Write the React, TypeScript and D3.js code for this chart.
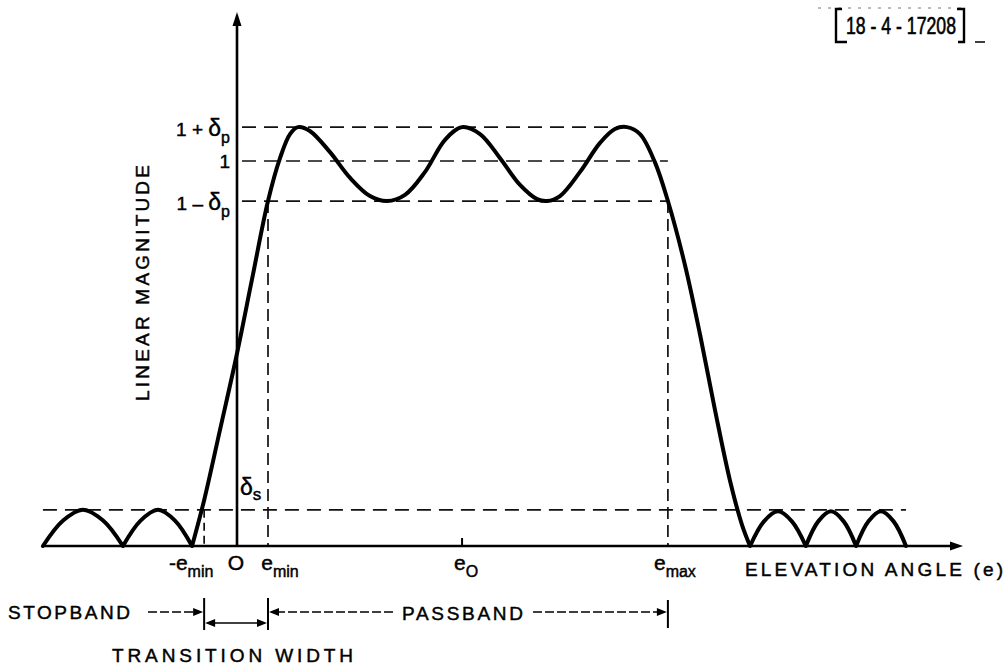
import React from 'react';
import * as d3 from 'd3';

const W = 1008;
const H = 669;

// ---- data (elevation angle in units of e_min, linear magnitude) ----
const stopLeftE = [-6.26, -5.61, -4.97, -4.32, -3.68, -3.11, -2.55, -2.0, -1.45];
const stopLeftM = [0, 0.066, 0.094, 0.066, 0, 0.066, 0.094, 0.066, 0];
const mainE = [-1.06, -0.55, 0, 0.48, 1.0, 1.39, 1.71, 1.97, 2.35, 3.0, 3.65, 4.29, 4.84, 5.42, 6.06, 6.71, 7.26, 7.84, 8.48, 9.13, 9.68, 10.0, 10.42, 11.06, 11.71, 12.19, 12.58, 13.0, 13.48, 13.9, 14.45, 14.94, 15.42, 15.9, 16.29];
const mainM = [0.119, 0.301, 0.5, 0.691, 0.896, 1.008, 1.07, 1.088, 1.078, 1.023, 0.956, 0.909, 0.896, 0.912, 0.971, 1.055, 1.088, 1.07, 1.008, 0.938, 0.901, 0.896, 0.909, 0.971, 1.047, 1.083, 1.088, 1.07, 0.997, 0.896, 0.73, 0.548, 0.353, 0.171, 0.055];
const stopRightE = [16.55, 17.0, 17.45, 17.9, 18.35, 18.75, 19.16, 19.57, 19.97, 20.37, 20.77, 21.18, 21.58];
const stopRightM = [0, 0.064, 0.09, 0.064, 0, 0.064, 0.09, 0.064, 0, 0.064, 0.09, 0.064, 0];

const magLevels = [1.088, 1.0, 0.896];
const magMain = ['1 + ', '1', '1 – '];
const magDelta = ['δ', '', 'δ'];
const magSub = ['p', '', 'p'];
const levelEndE = [12.58, 13.9, 13.9];
const deltaS = 0.094;

const eMarkE = [-1.06, 0, 1.0, 7.26, 13.9];
const eMarkMain = ['-e', 'O', 'e', 'e', 'e'];
const eMarkSub = ['min', '', 'min', 'O', 'max'];

// ---- layout ----
const FONT = "'Liberation Sans', Arial, sans-serif";
const eLabelShift = [-13, -1, 12, 4, 7];
const xScale = d3.scaleLinear().domain([-6, 23]).range([51, 950]);
const yScale = d3.scaleLinear().domain([0, 1]).range([546, 161]);
const TXT = { fill: '#000', stroke: '#000', strokeWidth: 0.45 };

function head(x: number, y: number, dir: 'l' | 'r' | 'u', len = 10, hw = 4) {
  let p: number[][];
  if (dir === 'r') p = [[x, y], [x - len, y - hw], [x - len, y + hw]];
  else if (dir === 'l') p = [[x, y], [x + len, y - hw], [x + len, y + hw]];
  else p = [[x, y], [x - hw, y + len], [x + hw, y + len]];
  return p.map((q) => q.join(',')).join(' ');
}

export default function App() {
  const allE = [...stopLeftE, ...mainE, ...stopRightE];
  const allM = [...stopLeftM, ...mainM, ...stopRightM];
  const pts: [number, number][] = allE.map((e, i) => [e, allM[i]]);
  const segs: [number, number][][] = [];
  let cur: [number, number][] = [pts[0]];
  for (let i = 1; i < pts.length; i++) {
    cur.push(pts[i]);
    if (pts[i][1] === 0 && i < pts.length - 1) {
      segs.push(cur);
      cur = [pts[i]];
    }
  }
  segs.push(cur);
  const line = d3
    .line<[number, number]>()
    .x((d) => xScale(d[0]))
    .y((d) => yScale(d[1]))
    .curve(d3.curveCatmullRom.alpha(0.5));
  const curveD = segs.map((s) => line(s)).join('');

  const x0 = xScale(0);
  const y0 = yScale(0);
  const xStart = xScale(stopLeftE[0]);
  const xStopEnd = xScale(stopRightE[stopRightE.length - 1]);
  const xNeg = xScale(eMarkE[0]);
  const xMin = xScale(eMarkE[2]);
  const xE0 = xScale(eMarkE[3]);
  const xMax = xScale(eMarkE[4]);
  const yLow = yScale(magLevels[2]);
  const yS = yScale(deltaS);

  const dashMain = '14,8';
  const dashAnn = '9,3';
  const rowY = 612;
  const twY = 623;

  return (
    <svg width={W} height={H} style={{ position: 'absolute', left: 0, top: 0, background: '#fff' }} fontFamily={FONT}>
      <rect x={0} y={0} width={W} height={H} fill="#fff" />
      {/* dashed reference lines */}
      <g stroke="#111" strokeWidth={1.7} strokeDasharray={dashMain} fill="none">
        {magLevels.map((m, i) => (
          <line key={i} x1={x0 + 5} x2={xScale(levelEndE[i])} y1={yScale(m)} y2={yScale(m)} />
        ))}
        <line x1={xStart} x2={xStopEnd} y1={yS} y2={yS} />
        <line x1={xMin} x2={xMin} y1={yLow} y2={y0} strokeDasharray="12,6" />
        <line x1={xMax} x2={xMax} y1={yLow} y2={y0} strokeDasharray="12,6" />
        <line x1={xNeg} x2={xNeg} y1={yS} y2={y0} strokeDasharray="8,5" />
      </g>
      {/* axes */}
      <g stroke="#000" strokeWidth={2.6}>
        <line x1={xStart} x2={955} y1={y0} y2={y0} />
        <line x1={x0} x2={x0} y1={y0} y2={20} />
        <line x1={xE0} x2={xE0} y1={y0 - 8} y2={y0} strokeWidth={2} />
      </g>
      <polygon points={head(963, y0, 'r', 13, 4.5)} fill="#000" />
      <polygon points={head(x0, 12, 'u', 14, 4.5)} fill="#000" />
      {/* response curve */}
      <path d={curveD} fill="none" stroke="#000" strokeWidth={4} strokeLinecap="round" strokeLinejoin="round" />

      {/* magnitude labels */}
      {magLevels.map((m, i) => (
        <text key={i} x={x0 - 7} y={yScale(m) + (i === 1 ? 7 : 9)} textAnchor="end" fontSize={19} {...TXT}>
          {magMain[i]}
          {magDelta[i] && <tspan fontSize={23}>{magDelta[i]}</tspan>}
          {magSub[i] && (
            <tspan fontSize={16} dy={7}>
              {magSub[i]}
            </tspan>
          )}
        </text>
      ))}
      <text x={x0 + 3} y={yS - 15} fontSize={23} {...TXT}>
        δ<tspan fontSize={17} dy={5}>s</tspan>
      </text>
      <text
        transform={`translate(149,283) rotate(-90)`}
        textAnchor="middle"
        fontSize={19}
        textLength={236}
        lengthAdjust="spacing"
        {...TXT}
      >
        LINEAR MAGNITUDE
      </text>

      {/* angle labels */}
      {eMarkE.map((e, i) => (
        <text key={i} x={xScale(e) + eLabelShift[i]} y={570} textAnchor="middle" fontSize={21} {...TXT}>
          {eMarkMain[i]}
          {eMarkSub[i] && (
            <tspan fontSize={16} dy={7}>
              {eMarkSub[i]}
            </tspan>
          )}
        </text>
      ))}
      <text x={745} y={576} fontSize={19} textLength={258} lengthAdjust="spacing" {...TXT}>
        ELEVATION ANGLE (e)
      </text>

      {/* band annotations */}
      <g stroke="#000" strokeWidth={2}>
        <line x1={xNeg} x2={xNeg} y1={598} y2={630} />
        <line x1={xMin} x2={xMin} y1={598} y2={630} />
        <line x1={xMax} x2={xMax} y1={600} y2={628} />
      </g>
      <g stroke="#000" strokeWidth={1.5} strokeDasharray={dashAnn}>
        <line x1={148} x2={xNeg - 8} y1={rowY} y2={rowY} />
        <line x1={xMin + 8} x2={395} y1={rowY} y2={rowY} />
        <line x1={533} x2={xMax - 8} y1={rowY} y2={rowY} />
      </g>
      <line x1={xNeg + 6} x2={xMin - 6} y1={twY} y2={twY} stroke="#000" strokeWidth={1.5} />
      <g fill="#000">
        <polygon points={head(xNeg - 1, rowY, 'r')} />
        <polygon points={head(xMin + 1, rowY, 'l')} />
        <polygon points={head(xMax - 1, rowY, 'r')} />
        <polygon points={head(xNeg + 1, twY, 'l')} />
        <polygon points={head(xMin - 1, twY, 'r')} />
      </g>
      <text x={8} y={619} fontSize={19} textLength={122} lengthAdjust="spacing" {...TXT}>
        STOPBAND
      </text>
      <text x={402} y={620} fontSize={19} textLength={121} lengthAdjust="spacing" {...TXT}>
        PASSBAND
      </text>
      <text x={112} y={662} fontSize={19} textLength={241} lengthAdjust="spacing" {...TXT}>
        TRANSITION WIDTH
      </text>

      {/* figure id */}
      <line x1={818} x2={962} y1={8} y2={8} stroke="#777" strokeWidth={1} strokeDasharray="3,7" />
      <path d="M842,9 H836 V42 H847" fill="none" stroke="#000" strokeWidth={2.4} />
      <path d="M957,9 H964 V42 H958" fill="none" stroke="#000" strokeWidth={2.4} />
      <line x1={975} x2={985} y1={42} y2={42} stroke="#000" strokeWidth={1.5} />
      <text
        x={846}
        y={34}
        fontSize={23}
        textLength={110}
        lengthAdjust="spacingAndGlyphs"
        {...TXT}
        strokeWidth={0.6}
      >
        18 - 4 - 17208
      </text>
    </svg>
  );
}
